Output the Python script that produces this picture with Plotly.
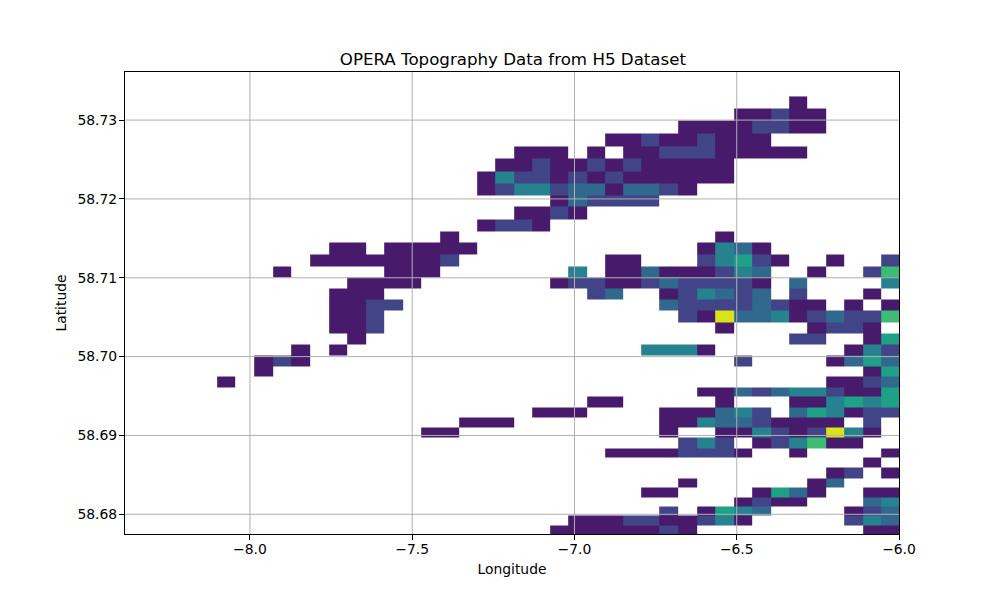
import plotly.graph_objects as go

# Cell edges
lon_edges = [-8.101, -8.044, -7.987, -7.929, -7.872, -7.815, -7.757, -7.700, -7.643, -7.586,
             -7.528, -7.471, -7.414, -7.356, -7.299, -7.243, -7.185, -7.129, -7.074, -7.018,
             -6.960, -6.904, -6.849, -6.794, -6.738, -6.680, -6.621, -6.565, -6.507, -6.451,
             -6.393, -6.337, -6.282, -6.223, -6.168, -6.109, -6.054, -6.0]
lat_edges = [58.7330, 58.7315, 58.7299, 58.7283, 58.7267, 58.7251, 58.7235, 58.7220, 58.7205, 58.7190,
             58.7174, 58.7159, 58.7145, 58.7130, 58.7115, 58.7100, 58.7086, 58.7072, 58.7058, 58.7043,
             58.7030, 58.7016, 58.7002, 58.6988, 58.6975, 58.6961, 58.6949, 58.6936, 58.6923, 58.6910,
             58.6897, 58.6884, 58.6872, 58.6859, 58.6846, 58.6834, 58.6822, 58.6810, 58.6798, 58.6786, 58.6774]

# Colour band of each cell, one row per latitude band from the north; '.' = no data
band_rows = [
    ".......... .......... .......... .0.....",
    ".......... .......... ........00 100....",
    ".......... .......... .....00001 100....",
    ".......... .......... .001001000 .......",
    ".......... ......000. 0.00111000 00.....",
    ".......... .....00100 10100000.. .......",
    ".......... ....031101 01000000.. .......",
    ".......... ....013312 202210.... .......",
    ".......... ........02 1111...... .......",
    ".......... ......0010 .......... .......",
    ".......... ....0110.. .......... .......",
    ".......... ..0....... .......0.. .......",
    "......00.0 0000...... ......0320 .......",
    ".....00000 001....... .00...1341 0..0..1",
    "...0.....0 00.......3 .002000132 ..0..15",
    ".......000 0.......01 1001211110 .2....3",
    "......000. .......... 12..013212 .1...0.",
    "......0011 .......... ....211112 100.0.0",
    "......001. .......... .....10622 3012115",
    "......001. .......... .......0.. ..0110.",
    ".......0.. .......... .......... .11..04",
    "....0.0... .......... ...3330... ....031",
    "..010..... .......... ........1. ...0242",
    "..0....... .......... .......... .....04",
    "0......... .......... .......... ...0012",
    ".......... .......... ......0021 2331004",
    ".......... .......... 00.....0.. .003434",
    ".......... .......000 ....000231 .243011",
    ".......... ...000.... ....003221 0000.1.",
    ".......... .00....... ....0..003 101630.",
    ".......... .......... .....131.0 13500..",
    ".......... .......... .00001110. .0....0",
    ".......... .......... .......... .....0.",
    ".......... .......... .......... ...01.0",
    ".......... .......... .....0.... ..02...",
    ".......... .......... ...00....0 420..00",
    ".......... .......... ........01 00...23",
    ".......... .......... ....1.0432 ....012",
    ".......... .........0 001100130. ....132",
    ".......... ........00 000010.... .....00",
]
band_colors = ["#481a6c", "#414487", "#31688e", "#26828e", "#1fa187", "#3dbc74", "#dae319"]

x_ticks = [-8.0, -7.5, -7.0, -6.5, -6.0]
y_ticks = [58.68, 58.69, 58.70, 58.71, 58.72, 58.73]
title_text = "OPERA Topography Data from H5 Dataset"
x_label = "Longitude"
y_label = "Latitude"

z = [[None if ch == "." else int(ch) for ch in row.replace(" ", "")] for row in band_rows][::-1]
n = len(band_colors) - 1
colorscale = [[i / n, c] for i, c in enumerate(band_colors)]

fig = go.Figure(go.Heatmap(
    x=lon_edges, y=lat_edges[::-1], z=z, zmin=0, zmax=n,
    colorscale=colorscale, showscale=False, hoverongaps=False,
))

GRID = "#b0b0b0"
shapes = [dict(type="line", xref="x", yref="paper", x0=v, x1=v, y0=0, y1=1,
               line=dict(color=GRID, width=1), layer="above") for v in x_ticks[:-1]]
shapes += [dict(type="line", xref="paper", yref="y", x0=0, x1=1, y0=v, y1=v,
                line=dict(color=GRID, width=1), layer="above") for v in y_ticks]

axis_common = dict(showgrid=False, zeroline=False, showline=True, mirror=True,
                   linecolor="black", linewidth=1, ticks="outside", ticklen=5,
                   tickwidth=1, tickcolor="black",
                   tickfont=dict(family="DejaVu Sans", size=13.9, color="black"))
fig.update_layout(
    width=992, height=592, autosize=False,
    margin=dict(l=117, r=101, t=64, b=66),
    paper_bgcolor="white", plot_bgcolor="white",
    font=dict(family="DejaVu Sans", color="black"),
    title=dict(text=title_text, x=0.509, xanchor="center", y=0.914, yanchor="middle",
               font=dict(family="DejaVu Sans", size=16.67, color="black")),
    xaxis=dict(range=[-8.385, -6.0], tickvals=x_ticks, tickformat=".1f", ticklabelstandoff=-3,
               title=dict(text=x_label, font=dict(size=13.9, family="DejaVu Sans"), standoff=8),
               **axis_common),
    yaxis=dict(range=[58.6775, 58.7361], tickvals=y_ticks, tickformat=".2f", ticklabelstandoff=-1,
               title=dict(text=y_label, font=dict(size=13.9, family="DejaVu Sans"), standoff=7),
               **axis_common),
    shapes=shapes,
)
fig.write_html("out.html")
